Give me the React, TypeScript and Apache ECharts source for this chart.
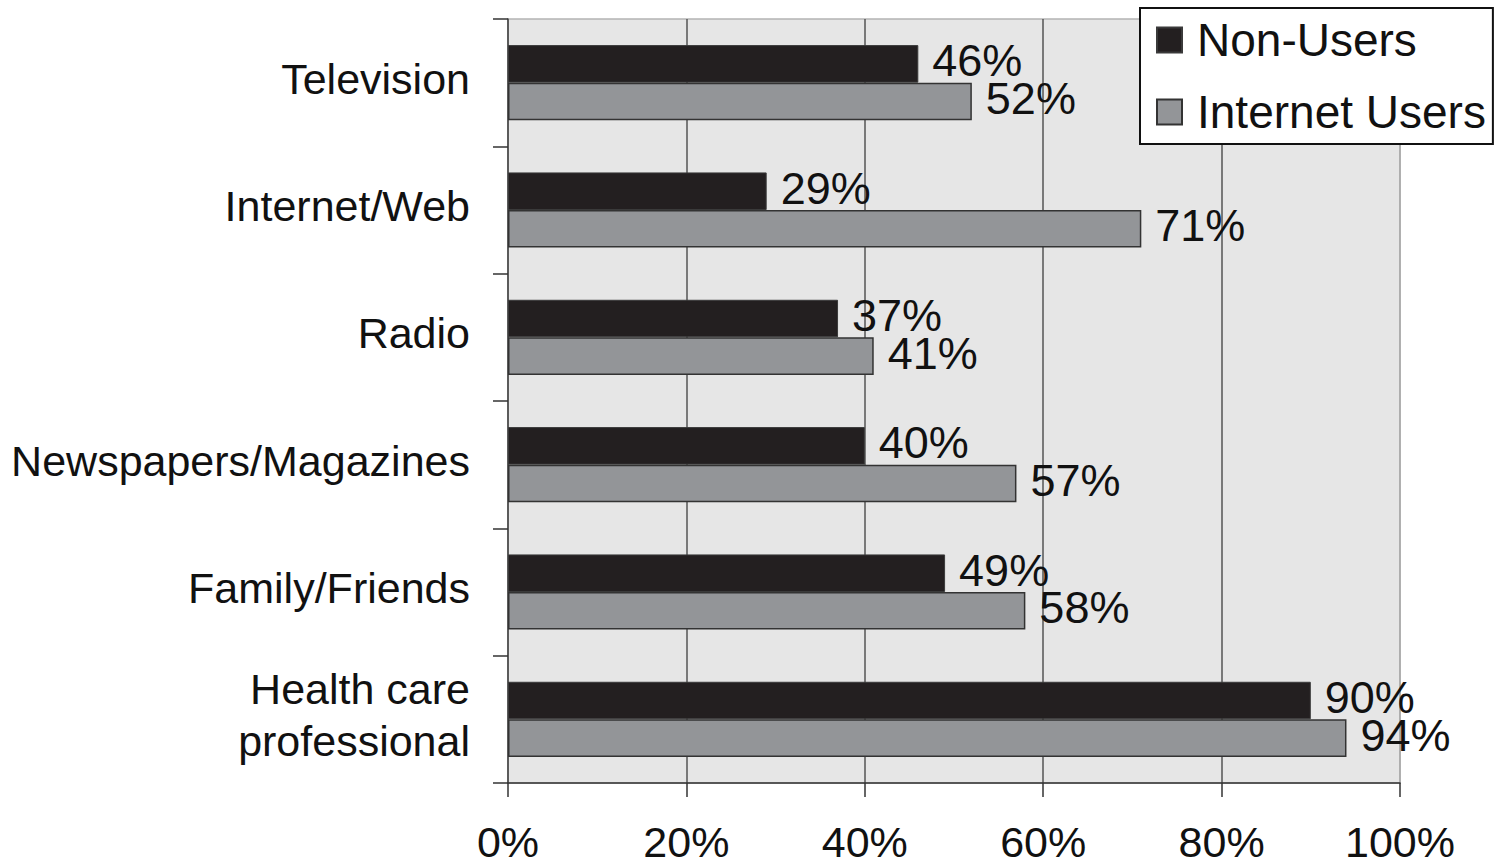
import React, { useEffect, useRef } from "react";
import * as echarts from "echarts";

const categories = [
  "Television",
  "Internet/Web",
  "Radio",
  "Newspapers/Magazines",
  "Family/Friends",
  "Health care\nprofessional",
];
const nonUsers = [46, 29, 37, 40, 49, 90];
const internetUsers = [52, 71, 41, 57, 58, 94];
const seriesNames = ["Non-Users", "Internet Users"];

const FONT = "'Liberation Sans', Arial, Helvetica, sans-serif";
const TEXT = "#111111";

export default function App() {
  const ref = useRef<HTMLDivElement>(null);

  useEffect(() => {
    if (!ref.current) return;
    const chart = echarts.init(ref.current, undefined, { renderer: "svg" });

    const valueLabel = {
      show: true,
      position: "right",
      distance: 14,
      offset: [0, -3],
      formatter: "{c}%",
      fontSize: 45,
      fontFamily: FONT,
      color: TEXT,
    };

    chart.setOption({
      animation: false,
      backgroundColor: "#ffffff",
      textStyle: { fontFamily: FONT },
      grid: {
        left: 508,
        right: 96,
        top: 19,
        bottom: 82,
        show: true,
        backgroundColor: "#e6e6e6",
        borderColor: "#b4b4b4",
        borderWidth: 1.5,
      },
      legend: {
        orient: "vertical",
        left: 1140,
        top: 8,
        data: seriesNames,
        icon: "rect",
        itemWidth: 25,
        itemHeight: 25,
        itemGap: 26,
        padding: [9, 7, 9, 16],
        backgroundColor: "#ffffff",
        borderColor: "#111111",
        borderWidth: 2,
        borderRadius: 0,
        textStyle: {
          fontSize: 46,
          lineHeight: 44,
          fontFamily: FONT,
          color: TEXT,
          padding: [0, 0, 0, 10],
        },
      },
      xAxis: {
        type: "value",
        min: 0,
        max: 100,
        interval: 20,
        axisLine: { show: true, lineStyle: { color: "#333333", width: 1.5 } },
        axisTick: {
          show: true,
          length: 14,
          lineStyle: { color: "#333333", width: 1.5 },
        },
        axisLabel: {
          formatter: "{value}%",
          fontSize: 43,
          lineHeight: 40,
          fontFamily: FONT,
          color: TEXT,
          margin: 39,
        },
        splitLine: {
          show: true,
          lineStyle: {
            color: ["#555555", "#555555", "#555555", "#555555", "#555555", "#a8a8a8"],
            width: 1.5,
          },
        },
      },
      yAxis: {
        type: "category",
        data: categories,
        inverse: true,
        axisLine: { show: true, lineStyle: { color: "#555555", width: 1.5 } },
        axisTick: {
          show: true,
          length: 15,
          lineStyle: { color: "#333333", width: 1.5 },
        },
        axisLabel: {
          fontSize: 43,
          fontFamily: FONT,
          color: TEXT,
          margin: 38,
          lineHeight: 52,
          align: "right",
          formatter: (v: string) => `{c|${v.replace("\n", "}\n{c|")}}`,
          rich: {
            c: {
              fontSize: 43,
              fontFamily: FONT,
              color: TEXT,
              lineHeight: 52,
              padding: [0, 0, 8, 0],
            },
          },
        },
        splitLine: { show: false },
      },
      series: [
        {
          name: seriesNames[0],
          type: "bar",
          data: nonUsers,
          barGap: "0%",
          barCategoryGap: "41%",
          itemStyle: { color: "#231f20", borderColor: "#3a3a3a", borderWidth: 1 },
          label: valueLabel,
        },
        {
          name: seriesNames[1],
          type: "bar",
          data: internetUsers,
          itemStyle: { color: "#939598", borderColor: "#333333", borderWidth: 1.5 },
          label: valueLabel,
        },
      ],
    });

    return () => chart.dispose();
  }, []);

  return (
    <div
      ref={ref}
      style={{ position: "fixed", left: 0, top: 0, width: 1496, height: 865 }}
    />
  );
}
